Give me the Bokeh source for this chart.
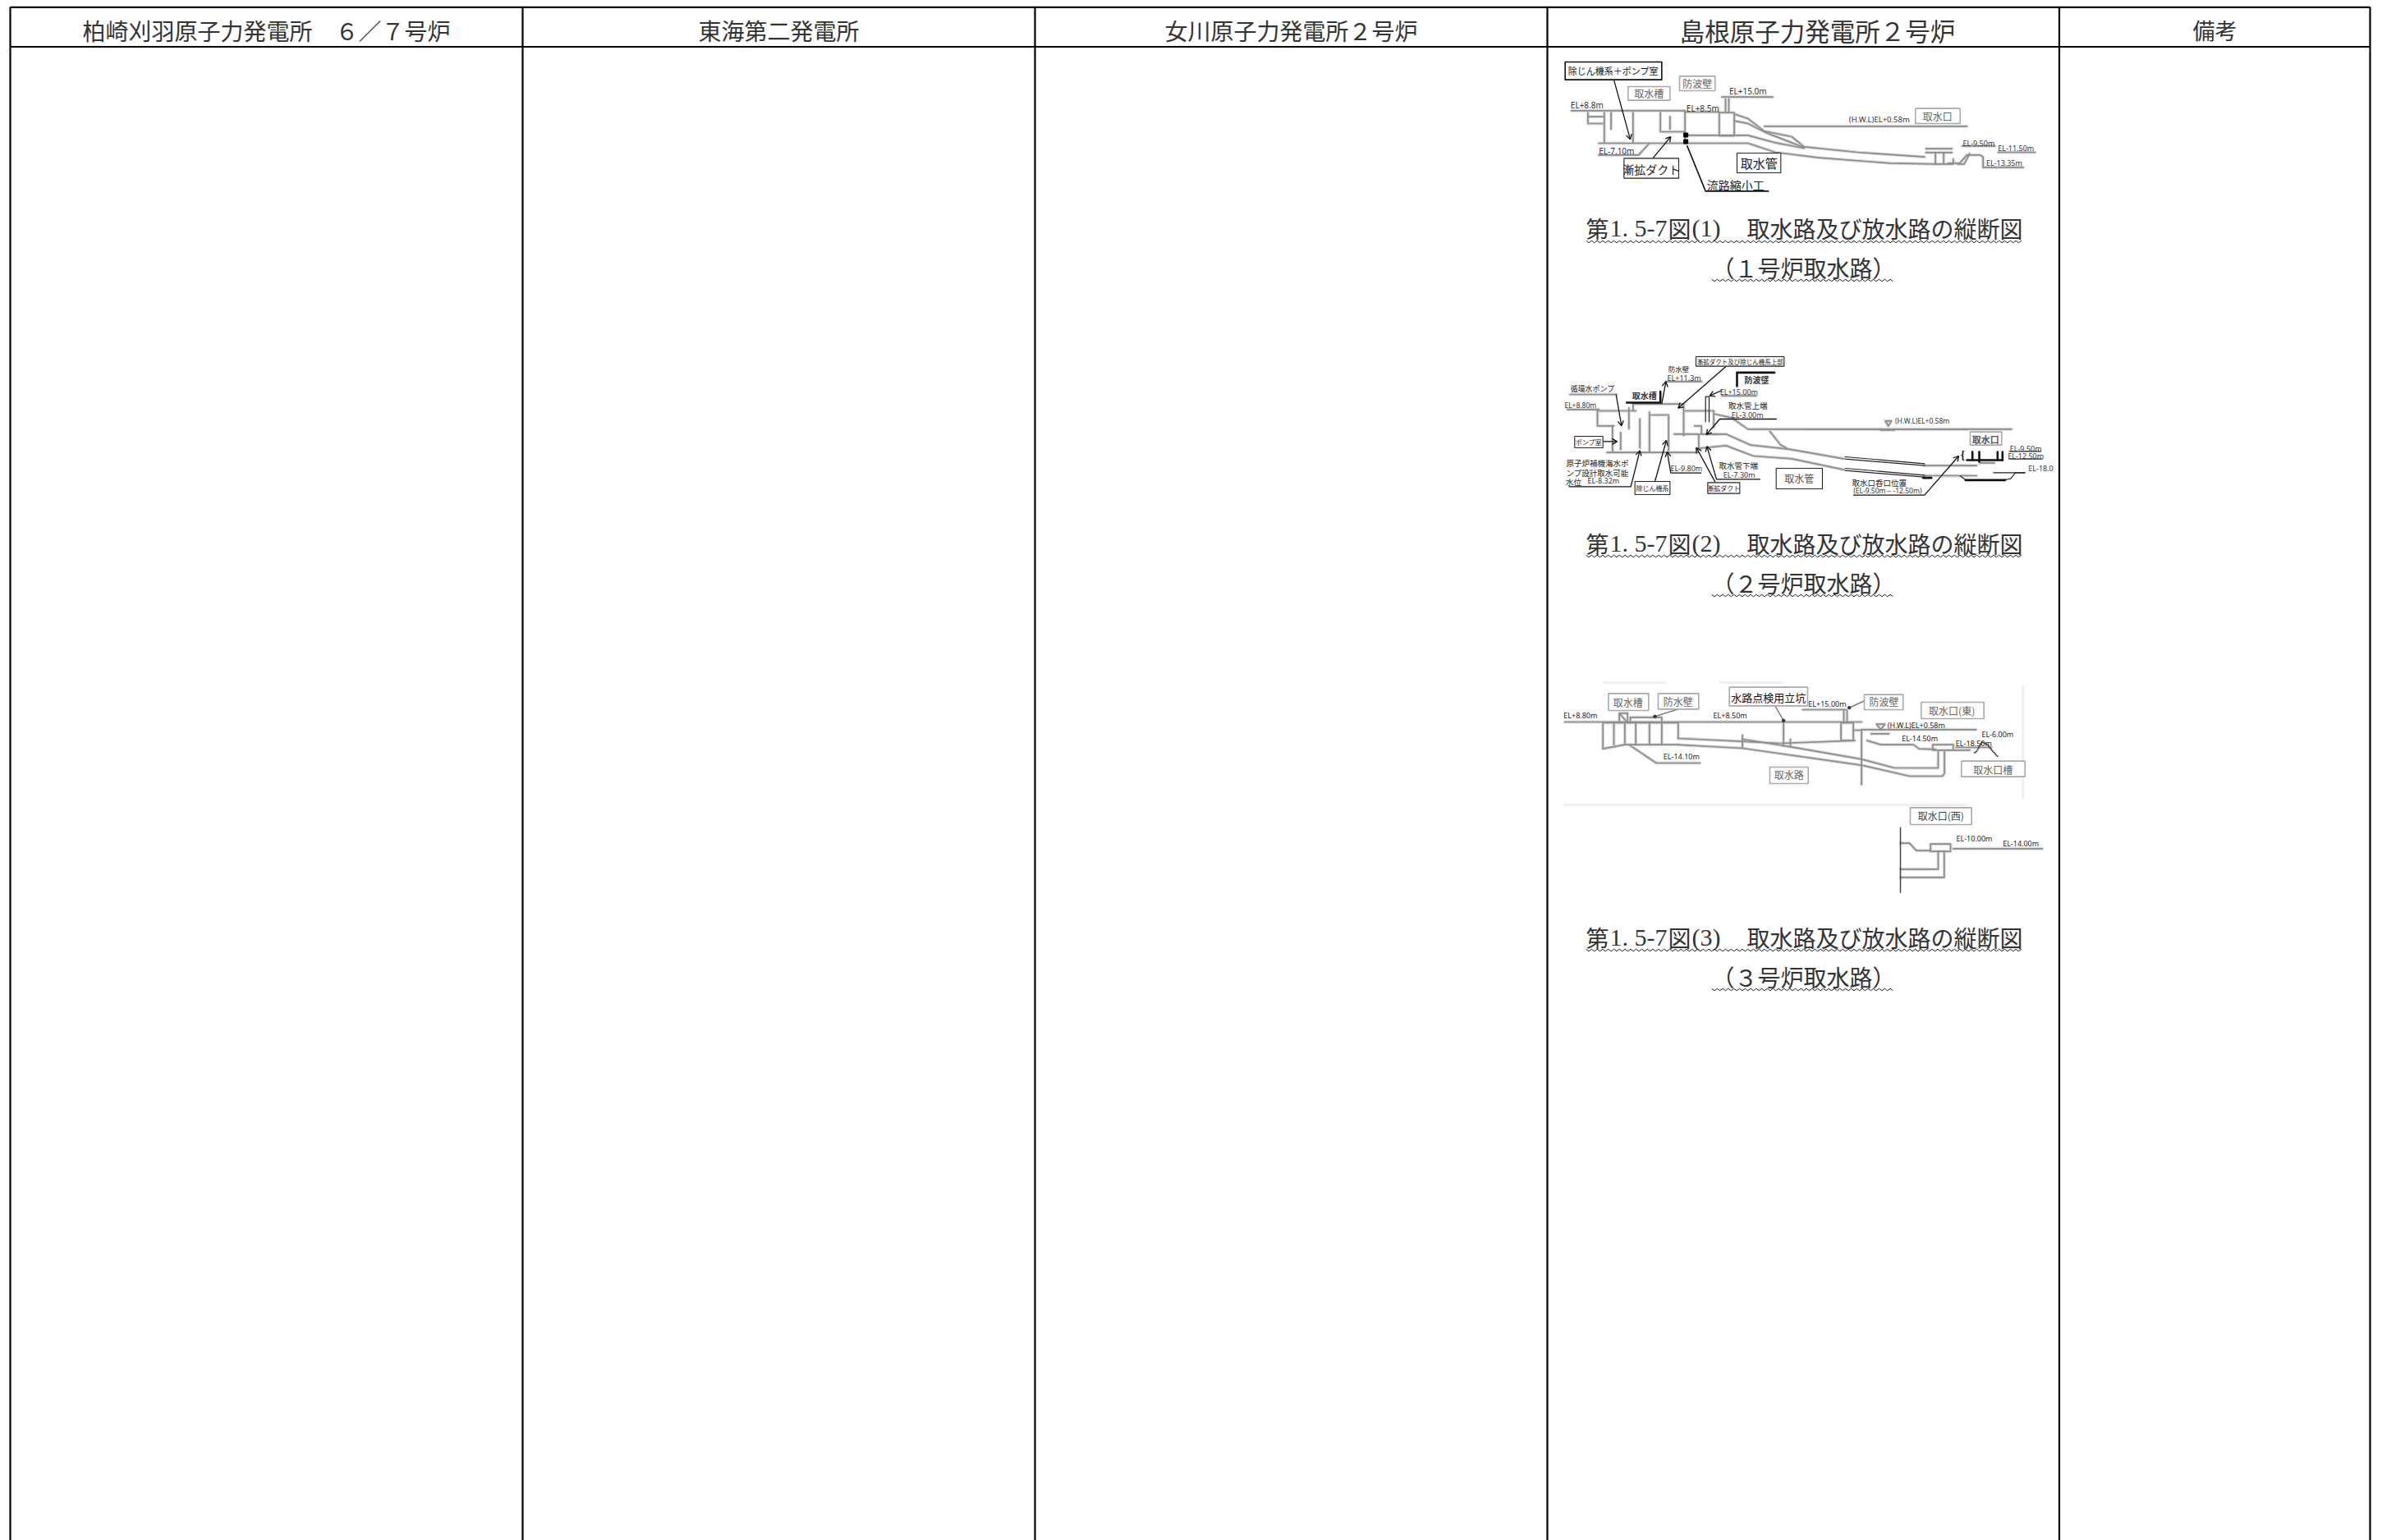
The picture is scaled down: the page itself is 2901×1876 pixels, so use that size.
from bokeh.plotting import figure
from bokeh.models import Range1d
from bokeh.core.properties import value
from bokeh.embed import file_html
from bokeh.resources import INLINE
import math

# ---------- table contents ----------
column_edges = [12, 636, 1260, 1884, 2507.5, 2886]
header_labels = ["柏崎刈羽原子力発電所　６／７号炉", "東海第二発電所", "女川原子力発電所２号炉", "島根原子力発電所２号炉", "備考"]
header_centers = [324, 948, 1572, 2213, 2697]
header_sizes = [28, 28, 28, 30.5, 27]
caption_no = ["(1)", "(2)", "(3)"]
caption_title = "取水路及び放水路の縦断図"
caption_sub = ["（１号炉取水路）", "（２号炉取水路）", "（３号炉取水路）"]
caption_main_y = [277, 661, 1141]
caption_sub_y = [325, 709, 1189]
wave_main_y = [294, 677, 1157]
wave_sub_y = [341, 725, 1205]

# ---------- drawing frames: origin x, origin y, scale x, scale y of the crop each sketch is measured in ----------
F1A = (1895, 70, 3, 3)
F1B = (1880, 60, 2.45, 3)
F2A = (1895, 430, 3, 3)
F2B = (2200, 470, 3, 3)
F3A = (1895, 825, 3, 3)
F3B = (2250, 825, 3, 3)

# ---------- sketch 1 ----------
d1_grey = [
    (F1A, [55, 470], [193, 193]), (F1A, [470, 595], [198, 198]), (F1A, [595, 650, 650, 595, 595], [200, 200, 285, 285, 200]),
    (F1A, [618, 618], [150, 200]), (F1A, [630, 630], [150, 200]), (F1A, [115, 115, 170], [200, 240, 240]),
    (F1A, [115, 170], [215, 215]), (F1A, [175, 175], [200, 310]), (F1A, [200, 200], [200, 260]), (F1A, [280, 280], [200, 310]),
    (F1A, [155, 470], [312, 312]), (F1A, [380, 380, 470], [200, 270, 270]), (F1A, [470, 470], [195, 312]),
    (F1A, [415, 415], [215, 260]), (F1A, [650, 700, 760, 860, 905, 1100, 1345], [205, 222, 268, 288, 325, 345, 362]),
    (F1A, [650, 700, 770, 860, 905], [230, 240, 275, 310, 328]), (F1A, [470, 700, 800, 905], [283, 283, 310, 330]),
    (F1A, [470, 700, 800, 960, 1220, 1390], [312, 312, 345, 365, 385, 388]),
    (F1A, [760, 1500], [250, 250]), (F1A, [1350, 1445], [332, 332]), (F1A, [1350, 1445], [346, 346]),
    (F1A, [1385, 1385, 1450, 1450], [346, 388, 388, 370]), (F1A, [1415, 1415], [346, 388]),
    (F1A, [1465, 1490, 1510], [388, 388, 350]), (F1B, [1205, 1240, 1262, 1300, 1310, 1310], [415, 415, 385, 385, 392, 430]),
    (F1B, [1248, 1345], [352, 352]), (F1B, [1355, 1465], [375, 375]), (F1B, [1310, 1430], [430, 430]),
    (F1A, [605, 790], [143, 143]), (F1A, [155, 300, 340], [355, 355, 312]),
]
d1_black = [
    (F1A, [478, 545, 775], [322, 487, 487]), (F1A, [32, 385, 385, 32, 32], [15, 15, 80, 80, 15]),
]
d1_arrows = [
    (F1A, [210, 270], [80, 298]), (F1A, [352, 418], [367, 288]),
]
d1_marks = [(F1A, 473, 282), (F1A, 473, 306)]
d1_boxes_black = [(F1A, 247, 367, 447, 440), (F1A, 660, 348, 820, 420)]
d1_boxes_grey = [(F1A, 262, 105, 415, 155), (F1A, 450, 67, 580, 120), (F1A, 1312, 185, 1475, 240)]
d1_texts = [
    (F1A, "除じん機系＋ポンプ室", 208, 47, 11, "#111111", "cjk"), (F1A, "取水槽", 338, 130, 12, "#666666", "cjk"),
    (F1A, "防波壁", 515, 92, 12, "#666666", "cjk"), (F1A, "漸拡ダクト", 347, 405, 14, "#222222", "cjk"),
    (F1A, "取水管", 740, 385, 15, "#222222", "cjk"), (F1A, "流路縮小工", 655, 462, 14, "#222222", "cjk"),
    (F1A, "取水口", 1393, 213, 12, "#666666", "cjk"), (F1A, "EL+8.8m", 112, 173, 10, "#333333", "lat"),
    (F1A, "EL+15.0m", 700, 122, 10, "#333333", "lat"), (F1A, "EL+8.5m", 535, 183, 10, "#333333", "lat"),
    (F1A, "(H.W.L)EL+0.58m", 1180, 225, 9.5, "#333333", "lat"), (F1A, "EL-7.10m", 220, 340, 10, "#333333", "lat"),
    (F1B, "EL-9.50m", 1297, 342, 9, "#333333", "lat"), (F1B, "EL-11.50m", 1408, 360, 9, "#333333", "lat"),
    (F1B, "EL-13.35m", 1373, 415, 9, "#333333", "lat"),
]

# ---------- sketch 2 ----------
d2_grey = [
    (F2A, [40, 155], [205, 205]), (F2A, [50, 220], [150, 150]), (F2A, [400, 530], [103, 103]), (F2A, [605, 730], [155, 155]),
    (F2A, [150, 290], [210, 210]), (F2A, [150, 150, 210], [210, 265, 265]), (F2A, [265, 265], [200, 275]),
    (F2A, [205, 205], [265, 360]), (F2A, [185, 520], [362, 362]), (F2A, [280, 465], [185, 185]), (F2A, [280, 280], [185, 210]),
    (F2A, [465, 465], [190, 300]), (F2A, [340, 340], [215, 360]), (F2A, [410, 410], [230, 355]), (F2A, [305, 305], [240, 345]),
    (F2A, [235, 235], [290, 350]), (F2A, [340, 410], [225, 225]), (F2A, [520, 520], [300, 345]), (F2A, [430, 590], [295, 295]),
    (F2A, [470, 575, 575], [210, 210, 270]), (F2A, [505, 530, 530], [265, 265, 290]),
    (F2A, [580, 640, 700, 1500], [222, 235, 277, 277]), (F2A, [780, 820, 840], [285, 335, 345]),
    (F2A, [548, 620, 710, 850, 1050], [295, 295, 335, 350, 385]), (F2A, [510, 620, 720, 860, 1050], [348, 337, 375, 385, 425]),
    (F2B, [0, 748], [157, 157]), (F2B, [430, 620], [290, 290]), (F2B, [430, 620], [327, 327]), (F2B, [630, 685], [280, 280]),
    (F2B, [287, 298, 309, 287], [127, 145, 127, 127]), (F2B, [270, 320], [160, 160]),
]
d2_black = [
    (F2B, [140, 430], [258, 283]), (F2B, [140, 430], [266, 290]), (F2B, [140, 430], [300, 325]),
    (F2B, [140, 430], [308, 332]), (F2B, [560, 580, 725, 745, 762, 797], [328, 342, 342, 338, 316, 316]), (F2B, [682, 797], [316, 316]),
    (F2B, [740, 855], [238, 238]), (F2B, [740, 860], [266, 266]),
    (F2A, [545, 545, 558, 558], [250, 158, 158, 250]),
]
d2_thick = [
    (F2A, [257, 380, 380], [180, 180, 140]), (F2A, [660, 660, 797], [120, 70, 70]), (F2B, [580, 725], [343, 343]),
    (F2B, [425, 455], [335, 335]), (F2B, [585, 715], [270, 270]), (F2B, [605, 605], [240, 270]), (F2B, [630, 630], [240, 275]),
    (F2B, [697, 697], [240, 270]), (F2B, [715, 715], [240, 270]),
]
d2_arrows = [
    (F2A, [385, 400], [185, 103]), (F2A, [218, 238], [150, 265]), (F2A, [170, 222], [322, 322]),
    (F2A, [45, 272, 305], [487, 487, 355]), (F2A, [530, 418, 405], [437, 437, 360]), (F2A, [360, 402], [468, 318]),
    (F2A, [580, 512], [470, 345]), (F2A, [745, 585, 550], [460, 460, 340]), (F2A, [805, 597, 548], [240, 240, 297]),
    (F2A, [1085, 1345, 1470], [518, 518, 375]), (F2A, [620, 445], [47, 200]), (F2A, [605, 560], [135, 155]),
]
d2_boxes_black = [(F2A, 510, 12, 832, 47), (F2A, 67, 303, 170, 345), (F2A, 287, 468, 415, 516), (F2A, 553, 472, 670, 512), (F2A, 803, 420, 972, 495)]
d2_boxes_grey = [(F2B, 597, 167, 712, 215)]
d2_texts = [
    (F2A, "漸拡ダクト及び除じん機系上部", 671, 29, 7.5, "#222222", "cjk"), (F2A, "防水壁", 447, 55, 8.5, "#222222", "cjk"),
    (F2A, "EL+11.3m", 467, 90, 9, "#333333", "lat"), (F2A, "循環水ポンプ", 132, 130, 9, "#222222", "cjk"),
    (F2A, "EL+8.80m", 88, 188, 8.5, "#333333", "lat"), (F2A, "取水槽", 322, 152, 10, "#333333", "bold"),
    (F2A, "防波壁", 732, 96, 10, "#333333", "bold"), (F2A, "EL+15.00m", 667, 142, 9, "#333333", "lat"),
    (F2A, "取水管上端", 700, 190, 9.5, "#222222", "cjk"), (F2A, "EL-3.00m", 698, 225, 9, "#333333", "lat"),
    (F2A, "(H.W.L)EL+0.58m", 1337, 247, 8.5, "#333333", "lat"), (F2A, "ポンプ室", 118, 325, 8, "#222222", "cjk"),
    (F2A, "原子炉補機海水ポ", 150, 400, 9.5, "#222222", "cjk"), (F2A, "ンプ設計取水可能", 150, 436, 9.5, "#222222", "cjk"),
    (F2A, "水位", 63, 470, 9.5, "#222222", "cjk"), (F2A, "EL-8.32m", 172, 465, 9, "#333333", "lat"),
    (F2A, "EL-9.80m", 475, 420, 9, "#333333", "lat"), (F2A, "除じん機系", 351, 492, 8, "#222222", "cjk"),
    (F2A, "漸拡ダクト", 611, 492, 8, "#222222", "cjk"), (F2A, "取水管下端", 665, 410, 9.5, "#222222", "cjk"),
    (F2A, "EL-7.30m", 668, 443, 9, "#333333", "lat"), (F2A, "取水管", 887, 457, 12, "#555555", "cjk"),
    (F2A, "取水口呑口位置", 1180, 472, 9.5, "#222222", "cjk"), (F2A, "(EL-9.50m～-12.50m)", 1210, 502, 8.5, "#333333", "lat"),
    (F2B, "取水口", 653, 193, 11, "#555555", "bold"), (F2B, "EL-9.50m", 800, 227, 9, "#333333", "lat"),
    (F2B, "EL-12.50m", 800, 255, 9, "#333333", "lat"), (F2B, "EL-18.0", 855, 300, 9, "#333333", "lat"),
]
d2_brace = (F2B, "{", 570, 250, 13, "#111111", "bold")

# ---------- sketch 3 ----------
d3_grey = [
    (F3A, [30, 1115], [162, 162]), (F3A, [230, 230, 260, 260, 230], [165, 130, 130, 165, 130]),
    (F3A, [170, 445], [165, 165]), (F3A, [170, 170, 250, 445], [165, 260, 245, 245]), (F3A, [210, 210], [165, 245]),
    (F3A, [250, 250], [165, 245]), (F3A, [270, 270, 385, 385], [165, 145, 145, 165]), (F3A, [290, 290], [165, 245]),
    (F3A, [340, 340], [165, 245]), (F3A, [385, 385], [165, 245]), (F3A, [445, 445], [165, 222]),
    (F3A, [445, 660, 815], [222, 232, 240]), (F3A, [820, 1090], [240, 230]), (F3A, [680, 840, 1115, 1235, 1395, 1395], [225, 250, 298, 330, 330, 270]),
    (F3A, [440, 680, 1115, 1290, 1410, 1418, 1418], [245, 258, 320, 360, 360, 350, 270]), (F3A, [680, 680], [210, 258]),
    (F3A, [830, 830], [160, 250]), (F3A, [855, 855], [225, 250]), (F3A, [1040, 1085, 1085, 1040, 1040], [165, 165, 230, 230, 165]),
    (F3A, [1050, 1050], [120, 165]), (F3A, [1062, 1062], [120, 165]), (F3A, [1085, 1115], [192, 192]), (F3A, [1115, 1115], [190, 390]),
    (F3A, [265, 365, 525], [245, 312, 312]), (F3A, [900, 1060], [117, 117]),
    (F3B, [50, 468], [190, 190]), (F3B, [70, 120, 240, 260, 320], [230, 245, 245, 260, 262]), (F3B, [310, 385, 385, 310, 310], [245, 245, 265, 265, 245]),
    (F3B, [385, 445], [265, 265]), (F3B, [395, 525], [255, 255]), (F3B, [105, 135, 120, 105], [170, 170, 190, 170]), (F3B, [85, 150], [205, 205]),
    (F3B, [192, 225, 250, 300], [605, 605, 632, 632]), (F3B, [302, 375, 375, 302, 302], [608, 608, 635, 635, 608]),
    (F3B, [330, 330, 192], [635, 700, 700]), (F3B, [352, 352, 192], [635, 730, 730]), (F3B, [385, 710], [625, 625]),
]
d3_dark = [(F3B, [192, 192], [548, 785]), (F3B, [462, 470, 490, 510, 530, 547], [275, 270, 235, 245, 270, 288])]
d3_faint = [(F3A, [30, 1500], [465, 465]), (F3A, [170, 400], [18, 18]), (F3A, [600, 830], [18, 18]), (F3B, [640, 640], [30, 440])]
d3_leaders = [(F3A, [360, 445], [142, 115]), (F3A, [800, 830], [105, 157]), (F3A, [1070, 1125], [110, 85])]
d3_dots = [(F3A, 360, 142), (F3A, 830, 157), (F3A, 1070, 110)]
d3_boxes_grey = [
    (F3A, 190, 58, 337, 120), (F3A, 372, 58, 520, 115), (F3A, 632, 35, 918, 103), (F3A, 1125, 62, 1267, 117), (F3A, 780, 327, 920, 387),
    (F3B, 268, 90, 497, 150), (F3B, 228, 475, 452, 537), (F3B, 415, 305, 647, 362),
]
d3_texts = [
    (F3A, "取水槽", 262, 90, 12, "#666666", "cjk"), (F3A, "防水壁", 445, 88, 12, "#666666", "cjk"),
    (F3A, "水路点検用立坑", 775, 73, 13, "#111111", "cjk"), (F3A, "EL+15.00m", 990, 95, 9, "#222222", "lat"),
    (F3A, "防波壁", 1197, 88, 12, "#666666", "cjk"), (F3A, "EL+8.80m", 88, 137, 9, "#222222", "lat"),
    (F3A, "EL+8.50m", 635, 137, 9, "#222222", "lat"), (F3A, "取水路", 850, 355, 12, "#666666", "cjk"),
    (F3A, "EL-14.10m", 457, 287, 9, "#222222", "lat"), (F3B, "(H.W.L)EL+0.58m", 250, 173, 9, "#222222", "lat"),
    (F3B, "EL-14.50m", 263, 222, 9, "#222222", "lat"), (F3B, "EL-18.50m", 460, 240, 9, "#222222", "lat"),
    (F3B, "EL-6.00m", 547, 206, 9, "#222222", "lat"), (F3B, "取水口(東)", 380, 120, 12, "#666666", "cjk"),
    (F3B, "取水口(西)", 340, 505, 12, "#444444", "cjk"), (F3B, "取水口槽", 530, 335, 12, "#666666", "cjk"),
    (F3B, "EL-10.00m", 462, 587, 9, "#222222", "lat"), (F3B, "EL-14.00m", 632, 605, 9, "#222222", "lat"),
]

# ---------- drawing ----------
CJK = "Noto Sans CJK JP"
SERIF = "Liberation Serif"

p = figure(width=2901, height=1876, output_backend="svg", toolbar_location=None,
           x_range=Range1d(0, 2901), y_range=Range1d(1876, 0),
           min_border=0, outline_line_color=None, background_fill_color="white")
p.xaxis.visible = False
p.yaxis.visible = False
p.grid.visible = False


def px(frame, xs, ys):
    ox, oy, sx, sy = frame
    return [ox + a / sx for a in xs], [oy + b / sy for b in ys]


def lines(items, color, width):
    xs, ys = [], []
    for frame, a, b in items:
        u, v = px(frame, a, b)
        xs.append(u)
        ys.append(v)
    p.multi_line(xs, ys, line_color=color, line_width=width, line_cap="round", line_join="round")


def soft_lines(items):
    lines(items, "#dcdcdc", 4)
    lines(items, "#8c8c8c", 1.7)


def arrows(items, color="#111111", width=1.3):
    xs, ys = [], []
    for frame, a, b in items:
        u, v = px(frame, a, b)
        xs.append(u)
        ys.append(v)
        ang = math.atan2(v[-1] - v[-2], u[-1] - u[-2])
        for d in (2.6, -2.6):
            xs.append([u[-1], u[-1] - 7 * math.cos(ang + d / 5)])
            ys.append([v[-1], v[-1] - 7 * math.sin(ang + d / 5)])
    p.multi_line(xs, ys, line_color=color, line_width=width)


def boxes(items, color, width):
    for frame, x0, y0, x1, y1 in items:
        u, v = px(frame, [x0, x1], [y0, y1])
        p.quad(left=u[0], right=u[1], top=v[0], bottom=v[1], fill_color="white", line_color=color, line_width=width)


def labels(items):
    for frame, s, x, y, size, color, kind in items:
        u, v = px(frame, [x], [y])
        font = "Noto Sans" if kind == "lat" else CJK
        p.text(u, v, text=[s], text_font=value(font), text_font_size=f"{size}px", text_color=color,
               text_align="center", text_baseline="middle",
               text_font_style="bold" if kind == "bold" else "normal")


def wave(x0, x1, y):
    xs, ys = [], []
    x, k = x0, 0
    while x <= x1:
        xs.append(x)
        ys.append(y + (1.3 if k % 2 else -1.3))
        x += 3.4
        k += 1
    p.line(xs, ys, line_color="#222222", line_width=1)


def run(x, y, s, font, size, align="left"):
    p.text([x], [y], text=[s], text_font=value(font), text_font_size=f"{size}px", text_color="#333333",
           text_align=align, text_baseline="alphabetic")


# table rules
tx = [[e, e] for e in column_edges]
ty = [[8, 1876] for _ in column_edges]
p.multi_line(tx, ty, line_color="black", line_width=2.2)
p.multi_line([[column_edges[0], column_edges[-1]], [column_edges[0], column_edges[-1]]], [[8.3, 8.3], [56.5, 56.5]],
             line_color="black", line_width=2.2)
for cx, s, fs in zip(header_centers, header_labels, header_sizes):
    p.text([cx], [36], text=[s], text_font=value(CJK), text_font_size=f"{fs}px", text_color="#333333",
           text_align="center", text_baseline="middle")

# sketches
lines(d3_faint, "#f1f1f1", 3)
soft_lines(d1_grey)
soft_lines(d2_grey)
soft_lines(d3_grey)
lines(d1_black, "#111111", 1.6)
lines(d2_black, "#222222", 1.2)
lines(d2_thick, "#111111", 2.6)
lines(d3_dark, "#444444", 1.5)
arrows(d1_arrows)
arrows(d2_arrows)
lines(d3_leaders, "#666666", 1.2)
for frame, x, y in d1_marks:
    u, v = px(frame, [x], [y])
    p.scatter(u, v, marker="square", size=5, color="black")
for frame, x, y in d3_dots:
    u, v = px(frame, [x], [y])
    p.scatter(u, v, marker="circle", size=3.5, color="#333333")
boxes(d1_boxes_grey, "#aaaaaa", 1.6)
boxes(d2_boxes_grey, "#aaaaaa", 1.6)
boxes(d3_boxes_grey, "#aaaaaa", 1.6)
boxes(d1_boxes_black, "#222222", 1.1)
boxes(d2_boxes_black, "#222222", 1.1)
labels(d1_texts)
labels(d2_texts)
labels([d2_brace])
labels(d3_texts)

# captions
for no, y, w in zip(caption_no, caption_main_y, wave_main_y):
    run(1931, y, "第", CJK, 28)
    run(1960, y, "1. 5-7", SERIF, 30)
    run(2031, y, "図", CJK, 28)
    run(2060, y, no, SERIF, 30)
    run(2127, y, caption_title, CJK, 28)
    wave(1931, 2463, w)
for s, y, w in zip(caption_sub, caption_sub_y, wave_sub_y):
    run(2196, y, s, CJK, 28, "center")
    wave(2084, 2308, w)

open("out.html", "w").write(file_html(p, INLINE))
